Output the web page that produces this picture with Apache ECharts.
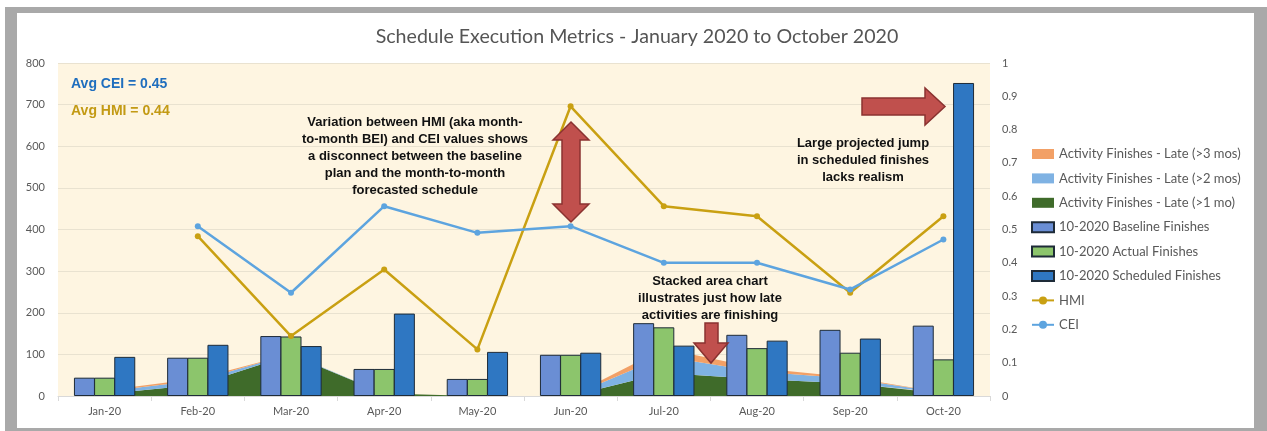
<!DOCTYPE html>
<html>
<head>
<meta charset="utf-8">
<script src="https://cdn.jsdelivr.net/npm/echarts@6/dist/echarts.min.js"></script>
<style>
  html, body { margin: 0; padding: 0; background: #fff; }
  #frame { position: absolute; left: 5px; top: 7px; width: 1262px; height: 424px; background: #a9a9a9; }
  #card { position: absolute; left: 17px; top: 13px; width: 1237px; height: 415px; background: #fff; }
  #main { position: absolute; left: 0; top: 0; width: 1267px; height: 431px; }
</style>
</head>
<body>
<div id="frame"></div>
<div id="card"></div>
<div id="main"></div>
<script>
  // categories and values
  var months = ['Jan-20', 'Feb-20', 'Mar-20', 'Apr-20', 'May-20', 'Jun-20', 'Jul-20', 'Aug-20', 'Sep-20', 'Oct-20'];
  var baseline = [44, 92, 144, 65, 41, 99, 175, 147, 159, 169];
  var actual = [44, 92, 143, 65, 41, 99, 165, 115, 104, 88];
  var scheduled = [94, 123, 120, 198, 106, 104, 121, 133, 138, 752];
  var late1 = [5, 27, 99, 6, 0, 0, 55, 41, 30, 6];
  var late2 = [6, 10, 2, 0, 0, 0, 40, 18, 12, 2];
  var late3 = [2, 5, 0, 0, 0, 0, 19, 8, 3, 0];
  var hmi = [null, 0.48, 0.18, 0.38, 0.14, 0.87, 0.57, 0.54, 0.31, 0.54];
  var cei = [null, 0.51, 0.31, 0.57, 0.49, 0.51, 0.40, 0.40, 0.32, 0.47];

  var gray = '#595959';
  var labelFont = 'Lato';
  var barBorder = '#1e2b38';

  var myChart = echarts.init(document.getElementById('main'));

  var noteFont = 'bold 13px "Liberation Sans", Arial, sans-serif';
  var arrowStyle = { fill: '#C0504D', stroke: '#8A3230', lineWidth: 1.5 };

  var option = {
    animation: false,
    title: {
      text: 'Schedule Execution Metrics - January 2020 to October 2020',
      left: 632,
      textAlign: 'center',
      top: 22,
      textStyle: { fontFamily: labelFont, fontSize: 19.6, fontWeight: 'normal', color: '#555' }
    },
    grid: {
      left: 58, right: 277, top: 63, bottom: 35,
      show: true, backgroundColor: '#FEF5E1', borderWidth: 0
    },
    legend: {
      orient: 'vertical',
      left: 1031,
      top: 147,
      padding: 0,
      itemWidth: 22,
      itemHeight: 10,
      itemGap: 10.4,
      textStyle: { fontFamily: labelFont, fontSize: 13, color: gray, lineHeight: 14 },
      data: [
        { name: 'Activity Finishes - Late (>3 mos)', icon: 'rect' },
        { name: 'Activity Finishes - Late (>2 mos)', icon: 'rect' },
        { name: 'Activity Finishes - Late (>1 mo)', icon: 'rect' },
        { name: '10-2020 Baseline Finishes', icon: 'rect' },
        { name: '10-2020 Actual Finishes', icon: 'rect' },
        { name: '10-2020 Scheduled Finishes', icon: 'rect' },
        'HMI',
        'CEI'
      ]
    },
    xAxis: {
      type: 'category',
      data: months,
      axisLine: { lineStyle: { color: '#d9d9d9' } },
      axisTick: { show: true, length: 5, lineStyle: { color: '#d9d9d9' } },
      axisLabel: { color: gray, fontFamily: labelFont, fontSize: 11, margin: 10 }
    },
    yAxis: [
      {
        type: 'value', min: 0, max: 800, interval: 100,
        axisLine: { show: false }, axisTick: { show: false },
        axisLabel: { color: gray, fontFamily: labelFont, fontSize: 11, margin: 13 },
        splitLine: { lineStyle: { color: '#E9E2D0', width: 1 } }
      },
      {
        type: 'value', min: 0, max: 1, interval: 0.1,
        axisLine: { show: false }, axisTick: { show: false },
        axisLabel: { color: gray, fontFamily: labelFont, fontSize: 11, margin: 12 },
        splitLine: { show: false }
      }
    ],
    series: [
      {
        name: 'Activity Finishes - Late (>1 mo)', type: 'line', stack: 'late',
        data: late1, symbol: 'none', color: '#3F6B2A',
        lineStyle: { width: 0 }, areaStyle: { color: '#3F6B2A', opacity: 1 }, z: 1
      },
      {
        name: 'Activity Finishes - Late (>2 mos)', type: 'line', stack: 'late',
        data: late2, symbol: 'none', color: '#7FB2E3',
        lineStyle: { width: 0 }, areaStyle: { color: '#7FB2E3', opacity: 1 }, z: 1
      },
      {
        name: 'Activity Finishes - Late (>3 mos)', type: 'line', stack: 'late',
        data: late3, symbol: 'none', color: '#F2A066',
        lineStyle: { width: 0 }, areaStyle: { color: '#F2A066', opacity: 1 }, z: 1
      },
      {
        name: '10-2020 Baseline Finishes', type: 'bar', data: baseline,
        barWidth: 21, barGap: '-4%', z: 2,
        itemStyle: { color: '#6A8ED4', borderColor: barBorder, borderWidth: 1 }
      },
      {
        name: '10-2020 Actual Finishes', type: 'bar', data: actual,
        barWidth: 21, barGap: '-4%', z: 2,
        itemStyle: { color: '#8CC56C', borderColor: barBorder, borderWidth: 1 }
      },
      {
        name: '10-2020 Scheduled Finishes', type: 'bar', data: scheduled,
        barWidth: 21, barGap: '-4%', z: 2,
        itemStyle: { color: '#2F77C2', borderColor: barBorder, borderWidth: 1 }
      },
      {
        name: 'HMI', type: 'line', yAxisIndex: 1, data: hmi,
        color: '#C9A012', symbol: 'circle', symbolSize: 6, z: 3,
        lineStyle: { width: 2.5, color: '#C9A012' }
      },
      {
        name: 'CEI', type: 'line', yAxisIndex: 1, data: cei,
        color: '#5DA4DF', symbol: 'circle', symbolSize: 6, z: 3,
        lineStyle: { width: 2.5, color: '#5DA4DF' }
      }
    ],
    graphic: [
      {
        type: 'text', left: 71, top: 77, z: 100,
        style: { text: 'Avg CEI = 0.45', fill: '#1F6EBE', font: 'bold 14px "Liberation Sans", Arial, sans-serif' }
      },
      {
        type: 'text', left: 71, top: 104, z: 100,
        style: { text: 'Avg HMI = 0.44', fill: '#C39A14', font: 'bold 14px "Liberation Sans", Arial, sans-serif' }
      },
      {
        type: 'text', x: 415, y: 114, z: 100,
        style: {
          text: 'Variation between HMI (aka month-\nto-month BEI) and CEI values shows\na disconnect between the baseline\nplan and the month-to-month\nforecasted schedule',
          fill: '#111', font: noteFont, align: 'center', lineHeight: 17
        }
      },
      {
        type: 'text', x: 863, y: 135, z: 100,
        style: {
          text: 'Large projected jump\nin scheduled finishes\nlacks realism',
          fill: '#111', font: noteFont, align: 'center', lineHeight: 17
        }
      },
      {
        type: 'text', x: 710, y: 273, z: 100,
        style: {
          text: 'Stacked area chart\nillustrates just how late\nactivities are finishing',
          fill: '#111', font: noteFont, align: 'center', lineHeight: 17
        }
      },
      {
        type: 'polygon', z: 100,
        shape: { points: [[571, 122], [589, 140], [580, 140], [580, 204], [589, 204], [571, 222], [553, 204], [562, 204], [562, 140], [553, 140]] },
        style: arrowStyle
      },
      {
        type: 'polygon', z: 100,
        shape: { points: [[862, 98], [925, 98], [925, 88], [945, 106.5], [925, 125], [925, 115], [862, 115]] },
        style: arrowStyle
      },
      {
        type: 'polygon', z: 100,
        shape: { points: [[705, 323], [718, 323], [718, 343], [728, 343], [711, 363], [694, 343], [705, 343]] },
        style: arrowStyle
      }
    ]
  };

  myChart.setOption(option);
</script>
</body>
</html>
